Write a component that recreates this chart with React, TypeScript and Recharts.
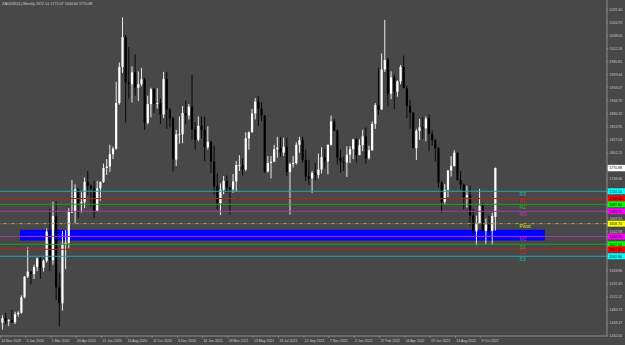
import React from 'react';
import { ComposedChart, Bar, XAxis, YAxis, ReferenceLine, ReferenceArea } from 'recharts';

// Weekly XAUUSD candles, first bar = week of 10 Nov 2019
const OPEN = [1459,1468,1462,1464,1460,1476,1479,1510,1552,1562,1557,1571,1589,1570,1584,1643,1585,1674,1530,1498,1618,1620,1683,1683,1728,1700,1702,1743,1735,1730,1685,1730,1743,1771,1774,1799,1810,1902,1975,2035,1944,1940,1964,1933,1940,1950,1862,1900,1930,1900,1902,1879,1951,1889,1871,1788,1839,1839,1882,1877,1895,1849,1828,1856,1848,1813,1824,1784,1734,1700,1727,1745,1732,1728,1744,1777,1777,1768,1831,1843,1881,1905,1891,1877,1764,1781,1784,1809,1812,1802,1814,1763,1779,1781,1818,1827,1787,1754,1750,1761,1757,1768,1793,1784,1818,1865,1846,1792,1783,1782,1798,1809,1829,1797,1817,1835,1791,1807,1860,1898,1889,1970,1989,1921,1954,1925,1946,1975,1932,1896,1883,1811,1846,1853,1851,1871,1840,1827,1811,1742,1703,1727,1766,1775,1802,1747,1738,1712,1716,1675,1643,1660,1695,1644,1657,1644,1672.51];
const HIGH = [1474,1479,1466,1485,1481,1482,1514,1553,1611,1563,1576,1590,1592,1586,1649,1689,1703,1704,1560,1644,1646,1690,1747,1738,1730,1722,1752,1765,1738,1745,1745,1744,1780,1789,1818,1814,1945,1984,2075,2040,2015,1976,2000,1966,1973,1953,1917,1933,1933,1932,1911,1965,1965,1892,1875,1848,1875,1896,1907,1900,1959,1863,1875,1875,1875,1855,1826,1816,1760,1740,1755,1756,1733,1759,1785,1797,1790,1843,1845,1890,1912,1916,1903,1878,1795,1795,1818,1834,1833,1832,1832,1782,1795,1823,1834,1834,1808,1788,1765,1781,1800,1813,1810,1818,1877,1870,1849,1808,1793,1815,1815,1830,1831,1829,1848,1853,1816,1865,1902,1974,2002,2070,1993,1966,1960,1948,1979,1998,1937,1909,1884,1850,1870,1874,1875,1879,1847,1830,1814,1744,1739,1767,1795,1807,1802,1765,1740,1735,1735,1688,1675,1729,1700,1669,1675,1681,1772.07];
const LOW = [1445,1456,1452,1458,1456,1471,1477,1508,1549,1536,1547,1563,1547,1562,1580,1563,1576,1504,1451,1483,1567,1609,1680,1660,1670,1681,1690,1716,1693,1670,1684,1705,1741,1757,1763,1789,1808,1899,1963,1863,1911,1903,1917,1906,1936,1848,1859,1873,1882,1891,1860,1872,1850,1853,1764,1775,1820,1821,1859,1869,1828,1808,1825,1831,1785,1808,1761,1717,1687,1676,1718,1721,1677,1721,1723,1765,1756,1765,1808,1843,1869,1856,1866,1761,1762,1750,1783,1792,1794,1795,1755,1677,1772,1778,1802,1782,1745,1737,1721,1746,1750,1760,1770,1758,1816,1846,1778,1762,1765,1753,1781,1789,1782,1797,1805,1780,1788,1806,1850,1878,1889,1965,1895,1910,1890,1915,1940,1935,1872,1850,1811,1787,1828,1830,1825,1805,1816,1784,1732,1681,1698,1712,1754,1774,1745,1727,1688,1691,1654,1639,1615,1659,1642,1617,1638,1616,1644.60];
const CLOSE = [1468,1462,1464,1460,1476,1479,1510,1552,1562,1557,1571,1589,1570,1584,1643,1585,1674,1530,1498,1618,1620,1683,1683,1728,1700,1702,1743,1735,1730,1685,1730,1743,1771,1774,1799,1810,1902,1975,2035,1944,1940,1964,1933,1940,1950,1862,1900,1930,1900,1902,1879,1951,1889,1871,1788,1839,1839,1882,1877,1895,1849,1828,1856,1848,1813,1824,1784,1734,1700,1727,1745,1732,1728,1744,1777,1777,1768,1831,1843,1881,1905,1891,1877,1764,1781,1784,1809,1812,1802,1814,1763,1779,1781,1818,1827,1787,1754,1750,1761,1757,1768,1793,1784,1818,1865,1846,1792,1783,1782,1798,1809,1829,1797,1817,1835,1791,1807,1860,1898,1889,1970,1989,1921,1954,1925,1946,1975,1932,1896,1883,1811,1846,1853,1851,1871,1840,1827,1811,1742,1703,1727,1766,1775,1802,1747,1738,1712,1716,1675,1643,1660,1695,1644,1657,1644,1674,1770.88];

const DATE_TICKS = [0,8,16,24,32,40,48,56,64,72,80,88,96,104,112,120,128,136,144,152];
const DATE_LABELS = ['10 Nov 2019','5 Jan 2020','1 Mar 2020','26 Apr 2020','21 Jun 2020','16 Aug 2020','11 Oct 2020','6 Dec 2020','31 Jan 2021','28 Mar 2021','23 May 2021','18 Jul 2021','12 Sep 2021','7 Nov 2021','2 Jan 2022','27 Feb 2022','24 Apr 2022','19 Jun 2022','14 Aug 2022','9 Oct 2022'];

const PRICE_TICKS = [2091.30,2064.93,2038.56,2012.18,1985.81,1959.44,1933.07,1906.70,1880.32,1853.95,1827.58,1801.21,1774.84,1748.46,1722.09,1695.72,1669.35,1642.98,1616.60,1590.23,1563.86,1537.49,1511.12,1484.74,1458.37,1432.00];

const LEVEL_NAMES = ['R3','R2','R1','M3','Pivot','M2','S1','S2','S3'];
const LEVEL_VALUES = [1724.1,1709.5,1697.8,1683.7,1658.7,1632.9,1617.1,1607.0,1592.9];
const LEVEL_LINE_COLORS = ['#22a8a8','#b82020','#20a020','#b030b0','#a0a040','#b030b0','#20a020','#b82020','#22a8a8'];
const LEVEL_BOX_COLORS = ['#00ffff','#ff0000','#00ff00','#ff00ff','#ffff00','#ff00ff','#00ff00','#ff0000','#00ffff'];
const LEVEL_TEXT_COLORS = ['#20b8b8','#d02020','#20c020','#c030c0','#e0e020','#c030c0','#20c020','#d02020','#20b8b8'];

const ZONE_PRICE = [1624.8, 1646.6];
const ZONE_SPAN = [5.7, 171.8];

const SYMBOL = 'XAUUSD(£),Weekly';

const data = OPEN.map((o, i) => ({
  i,
  open: o,
  high: HIGH[i],
  low: LOW[i],
  close: CLOSE[i],
  range: [LOW[i], HIGH[i]],
}));

const FONT = '"Liberation Sans", Arial, sans-serif';
const AXIS_TEXT = '#c8c8c8';
const lastIdx = OPEN.length - 1;
// axis labels drawn as coloured boxes cover the plain tick labels next to them
const COVERED = [...LEVEL_VALUES, CLOSE[lastIdx]];

const Candle = (props: any) => {
  const { x, y, width, height, payload } = props;
  if (!payload) return null;
  const { open, close, high, low } = payload;
  const top = Math.min(y, y + height);
  const h = Math.abs(height);
  const k = high === low ? 0 : h / (high - low);
  const cx = x + width / 2;
  const yO = top + (high - open) * k;
  const yC = top + (high - close) * k;
  const up = close >= open;
  const color = up ? '#ffffff' : '#000000';
  const bTop = Math.min(yO, yC);
  const bH = Math.max(Math.abs(yO - yC), 0.8);
  return (
    <g>
      <line x1={cx} x2={cx} y1={top} y2={top + h} stroke={color} strokeWidth={0.9} />
      <rect x={cx - 1.1} y={bTop} width={2.2} height={bH} fill={color} />
    </g>
  );
};

const DateTick = (props: any) => {
  const { x, y, payload } = props;
  const idx = DATE_TICKS.indexOf(payload.value);
  const label = idx >= 0 ? DATE_LABELS[idx] : '';
  const tx = x - 1.6;
  return (
    <g>
      <line x1={tx} x2={tx} y1={y} y2={y + 2} stroke="#a0a0a0" strokeWidth={0.6} />
      <text x={tx + 0.8} y={y + 5.8} fontSize={3.5} fontFamily={FONT} fill={AXIS_TEXT}>{label}</text>
    </g>
  );
};

const PriceTick = (props: any) => {
  const { x, y, payload } = props;
  const v = Number(payload.value);
  const hidden = COVERED.some((c) => Math.abs(c - v) < 7);
  return (
    <g>
      <line x1={x} x2={x + 1.4} y1={y} y2={y} stroke="#a0a0a0" strokeWidth={0.6} />
      {hidden ? null : (
        <text x={x + 2.6} y={y + 1.25} fontSize={3.5} fontFamily={FONT} fill={AXIS_TEXT}>{v.toFixed(2)}</text>
      )}
    </g>
  );
};

const makeLevelLabel = (k: number) => (p: any) => {
  const vb = p.viewBox || {};
  const x = vb.x ?? 0;
  const y = vb.y ?? 0;
  const w = vb.width ?? 0;
  return (
    <g>
      <text x={x + w * 0.856} y={y + 4.8} fontSize={5} fontFamily={FONT} fill={LEVEL_TEXT_COLORS[k]}>{LEVEL_NAMES[k]}</text>
      <rect x={x + w + 0.6} y={y - 3} width={17.4} height={6} fill={LEVEL_BOX_COLORS[k]} />
      <text x={x + w + 2.2} y={y + 1.25} fontSize={3.5} fontFamily={FONT} fill="#000000">{LEVEL_VALUES[k].toFixed(2)}</text>
    </g>
  );
};

const currentLabel = (p: any) => {
  const vb = p.viewBox || {};
  const x = vb.x ?? 0;
  const y = vb.y ?? 0;
  const w = vb.width ?? 0;
  return (
    <g>
      <rect x={x + w + 0.6} y={y - 3.2} width={17.4} height={6.4} fill="#ffffff" />
      <text x={x + w + 2.2} y={y + 1.25} fontSize={3.5} fontFamily={FONT} fill="#000000">{CLOSE[lastIdx].toFixed(2)}</text>
    </g>
  );
};

export default function App() {
  const header = `${SYMBOL}  ${OPEN[lastIdx].toFixed(2)} ${HIGH[lastIdx].toFixed(2)} ${LOW[lastIdx].toFixed(2)} ${CLOSE[lastIdx].toFixed(2)}`;
  return (
    <div style={{ position: 'fixed', left: 0, top: 0, width: 625, height: 345, background: '#484848', overflow: 'hidden' }}>
      <ComposedChart width={625} height={345} data={data} margin={{ top: 0, right: 0, bottom: 0, left: 0 }}>
        <XAxis
          dataKey="i"
          type="number"
          domain={[-0.633, 191.46]}
          ticks={DATE_TICKS}
          interval={0}
          allowDataOverflow
          height={9}
          tickSize={0}
          tickMargin={0}
          tickLine={false}
          axisLine={{ stroke: '#a0a0a0', strokeWidth: 0.8 }}
          tick={<DateTick />}
        />
        <YAxis
          orientation="right"
          type="number"
          domain={[1432, 2110.06]}
          ticks={PRICE_TICKS}
          interval={0}
          allowDataOverflow
          width={18}
          tickSize={0}
          tickMargin={0}
          tickLine={false}
          axisLine={{ stroke: '#a0a0a0', strokeWidth: 0.8 }}
          tick={<PriceTick />}
        />
        <ReferenceArea
          x1={ZONE_SPAN[0]}
          x2={ZONE_SPAN[1]}
          y1={ZONE_PRICE[0]}
          y2={ZONE_PRICE[1]}
          fill="#0000ff"
          fillOpacity={1}
          stroke="none"
          ifOverflow="visible"
        />
        <Bar dataKey="range" barSize={2} shape={<Candle />} isAnimationActive={false} />
        {LEVEL_VALUES.map((v, k) => (
          <ReferenceLine
            key={LEVEL_NAMES[k]}
            y={v}
            stroke={LEVEL_LINE_COLORS[k]}
            strokeWidth={1}
            strokeDasharray={k === 4 ? '4 1.5 1 1.5' : undefined}
            ifOverflow="visible"
            label={makeLevelLabel(k)}
          />
        ))}
        <ReferenceLine y={CLOSE[lastIdx]} stroke="none" ifOverflow="visible" label={currentLabel} />
      </ComposedChart>
      <svg width={625} height={10} style={{ position: 'absolute', left: 0, top: 0, pointerEvents: 'none' }}>
        <text x={2} y={5.3} fontSize={3.7} fontFamily={FONT} fill="#d0d0d0">{header}</text>
      </svg>
    </div>
  );
}
